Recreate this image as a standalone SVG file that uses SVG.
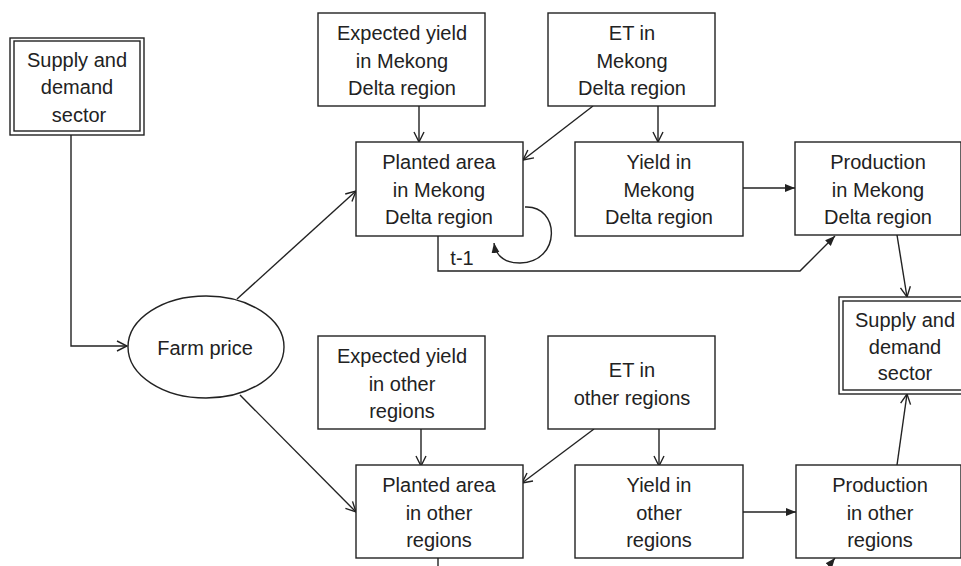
<svg xmlns="http://www.w3.org/2000/svg" width="961" height="566" viewBox="0 0 961 566">
<style>
.b{fill:#fff;stroke:#222;stroke-width:1.4}
.t{font-family:"Liberation Sans",Arial,sans-serif;font-size:20px;fill:#222;text-anchor:middle}
.c{fill:none;stroke:#222;stroke-width:1.4}
.o{marker-end:url(#open)}
.f{marker-end:url(#fill)}
</style>
<defs>
<marker id="open" viewBox="0 0 12 12" refX="11" refY="6" markerWidth="12" markerHeight="12" markerUnits="userSpaceOnUse" orient="auto">
<path d="M1,1 L11,6 L1,11" fill="none" stroke="#222" stroke-width="1.4"/>
</marker>
<marker id="fill" viewBox="0 0 10 10" refX="10" refY="5" markerWidth="10" markerHeight="10" markerUnits="userSpaceOnUse" orient="auto">
<path d="M0,1 L10,5 L0,9 Z" fill="#222"/>
</marker>
</defs>
<rect width="961" height="566" fill="#fff"/>
<g id="connectors">
<polyline class="c o" points="71,135 71,346 127,346"/>
<line class="c o" x1="237" y1="299" x2="356" y2="191"/>
<line class="c o" x1="240" y1="395" x2="356" y2="512"/>
<line class="c o" x1="419" y1="106" x2="419" y2="142"/>
<line class="c o" x1="593" y1="106" x2="523" y2="160"/>
<line class="c o" x1="658" y1="106" x2="658" y2="142"/>
<path class="c f" d="M525,207 C560,205 562,262 520,263 C505,263 496,256 494,243"/>
<polyline class="c f" points="438,236 438,271 800,271 835,236"/>
<line class="c f" x1="743" y1="188" x2="795" y2="188"/>
<line class="c o" x1="897" y1="235" x2="907" y2="297"/>
<line class="c o" x1="421" y1="429" x2="421" y2="466"/>
<line class="c o" x1="594" y1="429" x2="522" y2="483"/>
<line class="c o" x1="659" y1="429" x2="659" y2="466"/>
<line class="c f" x1="743" y1="512" x2="796" y2="512"/>
<line class="c o" x1="897" y1="465" x2="907" y2="394"/>
<line class="c" x1="438" y1="558" x2="438" y2="570"/>
<line class="c f" x1="827" y1="568" x2="835" y2="558"/>
<text class="t" x="462" y="265" font-size="18">t-1</text>
</g>
<g id="supply-left">
<rect class="b" x="10" y="38" width="134" height="97"/>
<rect class="b" x="14" y="41" width="126" height="90"/>
<text class="t" x="77" y="67">Supply and</text>
<text class="t" x="77" y="94">demand</text>
<text class="t" x="79" y="122">sector</text>
</g>
<g id="farm-price">
<ellipse class="b" cx="206" cy="347" rx="78" ry="51"/>
<text class="t" x="205" y="355">Farm price</text>
</g>
<g id="exp-mekong">
<rect class="b" x="318" y="13" width="167" height="93"/>
<text class="t" x="402" y="40">Expected yield</text>
<text class="t" x="402" y="68">in Mekong</text>
<text class="t" x="402" y="95">Delta region</text>
</g>
<g id="et-mekong">
<rect class="b" x="548" y="13" width="167" height="93"/>
<text class="t" x="632" y="40">ET in</text>
<text class="t" x="632" y="68">Mekong</text>
<text class="t" x="632" y="95">Delta region</text>
</g>
<g id="planted-mekong">
<rect class="b" x="356" y="142" width="167" height="94"/>
<text class="t" x="439" y="169">Planted area</text>
<text class="t" x="439" y="197">in Mekong</text>
<text class="t" x="439" y="224">Delta region</text>
</g>
<g id="yield-mekong">
<rect class="b" x="575" y="142" width="168" height="94"/>
<text class="t" x="659" y="169">Yield in</text>
<text class="t" x="659" y="197">Mekong</text>
<text class="t" x="659" y="224">Delta region</text>
</g>
<g id="prod-mekong">
<rect class="b" x="795" y="142" width="166" height="93"/>
<text class="t" x="878" y="169">Production</text>
<text class="t" x="878" y="197">in Mekong</text>
<text class="t" x="878" y="224">Delta region</text>
</g>
<g id="supply-right">
<rect class="b" x="839" y="297" width="135" height="97"/>
<rect class="b" x="843" y="301" width="127" height="89"/>
<text class="t" x="905" y="327">Supply and</text>
<text class="t" x="905" y="354">demand</text>
<text class="t" x="905" y="380">sector</text>
</g>
<g id="exp-other">
<rect class="b" x="318" y="336" width="167" height="93"/>
<text class="t" x="402" y="363">Expected yield</text>
<text class="t" x="402" y="391">in other</text>
<text class="t" x="402" y="418">regions</text>
</g>
<g id="et-other">
<rect class="b" x="548" y="336" width="167" height="93"/>
<text class="t" x="632" y="377">ET in</text>
<text class="t" x="632" y="405">other regions</text>
</g>
<g id="planted-other">
<rect class="b" x="356" y="465" width="167" height="93"/>
<text class="t" x="439" y="492">Planted area</text>
<text class="t" x="439" y="520">in other</text>
<text class="t" x="439" y="547">regions</text>
</g>
<g id="yield-other">
<rect class="b" x="575" y="465" width="168" height="93"/>
<text class="t" x="659" y="492">Yield in</text>
<text class="t" x="659" y="520">other</text>
<text class="t" x="659" y="547">regions</text>
</g>
<g id="prod-other">
<rect class="b" x="796" y="465" width="165" height="93"/>
<text class="t" x="880" y="492">Production</text>
<text class="t" x="880" y="520">in other</text>
<text class="t" x="880" y="547">regions</text>
</g>
</svg>
